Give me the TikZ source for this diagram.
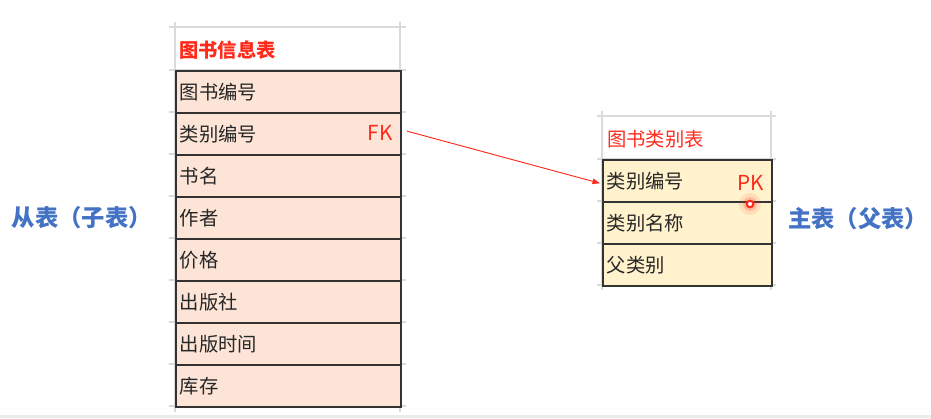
\documentclass[tikz,border=0pt]{standalone}
\usepackage{fontspec}
\setmainfont{Noto Sans CJK SC}
\usepackage{tikz}
\usetikzlibrary{arrows.meta,positioning,calc}
\definecolor{childFill}{HTML}{FCE4D6}
\definecolor{parentFill}{HTML}{FFF2CC}
\definecolor{keyRed}{HTML}{FF2A1A}
\definecolor{sideBlue}{HTML}{4472C4}
\definecolor{gridGray}{HTML}{DADADA}
\definecolor{cellLine}{HTML}{333333}

\begin{document}
\begin{tikzpicture}[x=0.75pt,y=-0.75pt,>=Latex,
  cell/.style={draw=cellLine,line width=1.2pt,rectangle,minimum height=31.5pt,
    inner xsep=3pt,text width=#1,align=left,anchor=north west,text=black!85,
    font=\fontsize{14.5}{16}\selectfont},
  headtext/.style={text=keyRed,font=\fontsize{14.5}{16}\selectfont\bfseries,anchor=west,inner sep=0pt},
  keytext/.style={text=keyRed,font=\fontsize{15.5}{17}\selectfont,inner sep=0pt},
  sidetext/.style={text=sideBlue,font=\fontsize{17.5}{19}\selectfont\bfseries,inner sep=0pt},
  gridline/.style={draw=gridGray,line width=0.8pt}]
  \useasboundingbox (0,0) rectangle (931,418);
  \fill[black!8] (0,415) rectangle (931,418);
  % sheet grid behind the tables
  \draw[gridline] (169,27) -- (406,27);
  \draw[gridline] (175,22) -- (175,412);
  \draw[gridline] (400,22) -- (400,412);
  \foreach \y in {70,112,...,406}
    \draw[gridline] (169,\y) -- (406,\y);
  \draw[gridline] (597,116) -- (776,116);
  \draw[gridline] (602,111) -- (602,290);
  \draw[gridline] (771,111) -- (771,290);
  \foreach \y in {159,201,243,285}
    \draw[gridline] (597,\y) -- (776,\y);
  % child table
  \node[headtext] (childhead) at (179,50) {图书信息表};
  \foreach \lab [count=\i] in {图书编号,类别编号,书名,作者,价格,出版社,出版时间,库存}
    \node[cell=162.75pt,fill=childFill] (c\i) at (175,70+42*\i-42) {\lab};
  % parent table
  \node[headtext,font=\fontsize{14.5}{16}\selectfont] (parenthead) at (607,139) {图书类别表};
  \foreach \lab [count=\i] in {类别编号,类别名称,父类别}
    \node[cell=120.75pt,fill=parentFill] (p\i) at (602,159+42*\i-42) {\lab};
  % keys
  \node[keytext,anchor=east] (fk) at (393,133) {FK};
  \node[keytext] (pk) at (751,183) {PK};
  \draw[keyRed,line width=0.7pt,->] ([xshift=4pt,yshift=2pt]c2.east) -- ([xshift=-1pt,yshift=-2pt]p1.west);
  \coordinate (pkdot) at (750,204);
  \fill[keyRed,opacity=0.10] (pkdot) circle (11);
  \fill[keyRed,opacity=0.18] (pkdot) circle (7);
  \draw[keyRed,line width=1.6pt,fill=white] (pkdot) circle (3.3);
  % side labels
  \node[sidetext] (childlabel) at (82,218) {从表（子表）};
  \node[sidetext] (parentlabel) at (858,219) {主表（父表）};
\end{tikzpicture}
\end{document}
